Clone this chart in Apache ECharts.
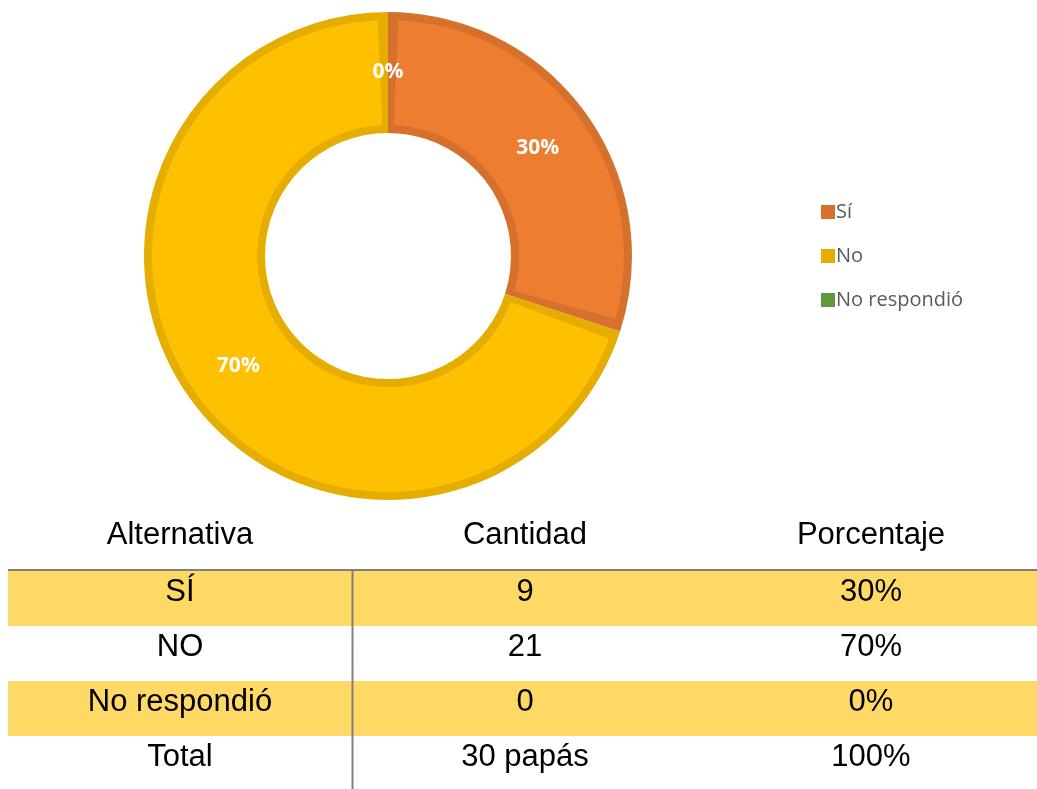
<!DOCTYPE html>
<html>
<head>
<meta charset="utf-8">
<script src="https://cdn.jsdelivr.net/npm/echarts@6/dist/echarts.min.js"></script>
<style>
  html, body { margin: 0; padding: 0; background: #fff; }
  #chart { width: 1037px; height: 789px; }
</style>
</head>
<body>
<div id="chart"></div>
<script>
// datos del gráfico
const categories = ['Sí', 'No', 'No respondió']
const counts = [9, 21, 0]
const colors = ['#ED7D31', '#FFC000', '#70AD47']
const borderColors = ['#D5712D', '#E5AD00', '#62993E']

// datos de la tabla
const tableHeaders = ['Alternativa', 'Cantidad', 'Porcentaje']
const tableRows = [
    ['SÍ', '9', '30%'],
    ['NO', '21', '70%'],
    ['No respondió', '0', '0%'],
    ['Total', '30 papás', '100%']
]

const chart = echarts.init(document.getElementById('chart'))

const colX = [180, 525, 871]
const headerY = 535
const rowTop = 571
const rowH = 55
const tableFont = '"Liberation Sans", Arial, sans-serif'
const fontSize = 31

const graphics = []
// filas amarillas
tableRows.forEach((row, i) => {
    if (i % 2 === 0) {
        graphics.push({
            type: 'rect',
            shape: { x: 8, y: rowTop + i * rowH, width: 1029, height: rowH },
            style: { fill: '#FFD966' },
            silent: true
        })
    }
})
// líneas
graphics.push({
    type: 'line',
    shape: { x1: 8, y1: 570, x2: 1037, y2: 570 },
    style: { stroke: '#7F7F7F', lineWidth: 2 }
})
graphics.push({
    type: 'line',
    shape: { x1: 352.5, y1: 570, x2: 352.5, y2: 789 },
    style: { stroke: '#7F7F7F', lineWidth: 2 }
})
// encabezados
tableHeaders.forEach((h, j) => {
    graphics.push({
        type: 'text',
        x: colX[j],
        y: headerY,
        style: { text: h, fill: '#000', font: fontSize + 'px ' + tableFont, align: 'center', verticalAlign: 'middle' }
    })
})
// celdas
tableRows.forEach((row, i) => {
    row.forEach((cell, j) => {
        graphics.push({
            type: 'text',
            x: colX[j],
            y: rowTop + i * rowH + 21,
            style: { text: cell, fill: '#000', font: fontSize + 'px ' + tableFont, align: 'center', verticalAlign: 'middle' }
        })
    })
})

const total = counts.reduce((a, b) => a + b, 0)
const center = [388, 256]

const option = {
    animation: false,
    legend: {
        orient: 'vertical',
        left: 816,
        top: 197,
        itemWidth: 14,
        itemHeight: 14,
        itemGap: 24,
        icon: 'rect',
        textStyle: {
            fontSize: 20,
            color: '#595959',
            fontFamily: '"Open Sans", sans-serif',
            padding: [0, 0, 0, -4]
        },
        data: categories
    },
    graphic: graphics,
    series: [
        {
            // borde de cada sector
            type: 'pie',
            center: center,
            radius: [123, 244],
            startAngle: 90,
            clockwise: true,
            stillShowZeroSum: true,
            label: { show: false },
            labelLine: { show: false },
            emphasis: { disabled: true },
            data: categories.map((c, i) => ({
                name: c,
                value: counts[i],
                itemStyle: { color: borderColors[i], borderWidth: 0 }
            }))
        },
        {
            // relleno interior, separado para dejar ver el borde
            type: 'pie',
            center: center,
            radius: [131, 236],
            startAngle: 90,
            clockwise: true,
            padAngle: 5,
            silent: true,
            label: { show: false },
            labelLine: { show: false },
            emphasis: { disabled: true },
            data: categories.map((c, i) => ({
                name: c,
                value: counts[i] === 0 ? '-' : counts[i],
                itemStyle: { color: colors[i], borderWidth: 0 }
            }))
        },
        {
            // etiquetas de porcentaje
            type: 'pie',
            center: center,
            radius: [120, 244],
            startAngle: 90,
            clockwise: true,
            stillShowZeroSum: true,
            avoidLabelOverlap: false,
            silent: true,
            label: {
                show: true,
                position: 'inside',
                formatter: p => Math.round(p.value / total * 100) + '%',
                color: '#fff',
                fontSize: 21,
                fontWeight: 'bold',
                fontFamily: '"Open Sans", sans-serif',
                offset: [0, 1]
            },
            labelLine: { show: false },
            emphasis: { disabled: true },
            data: categories.map((c, i) => ({
                name: c,
                value: counts[i],
                itemStyle: { color: 'rgba(0,0,0,0)', borderWidth: 0 }
            }))
        }
    ]
}

chart.setOption(option)
window.addEventListener('resize', () => { chart.resize() })
</script>
</body>
</html>
